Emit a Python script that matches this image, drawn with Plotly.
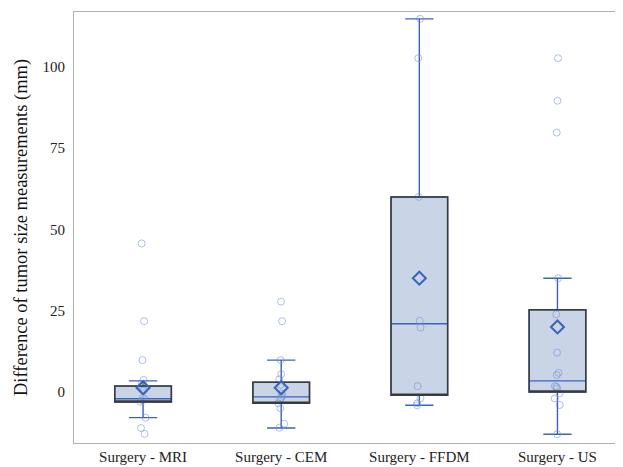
import plotly.graph_objects as go

categories = ["Surgery - MRI", "Surgery - CEM", "Surgery - FFDM", "Surgery - US"]

q1 = [-3.1, -3.5, -1.0, 0.0]
median = [-2.1, -1.5, 21.0, 3.4]
q3 = [1.8, 3.0, 60.0, 25.3]
lower_whisker = [-7.9, -11.1, -4.1, -13.0]
upper_whisker = [3.4, 9.8, 114.8, 35.0]
means = [1.3, 1.3, 35.0, 20.0]

points_mri = [45.7, 21.8, 9.8, 3.7, 2.5, 1.5, 0.5, -1.8, -2.2, -2.6, -3.0, -7.9, -11.1, -12.9]
points_cem = [27.8, 21.8, 9.8, 5.5, 3.9, 2.2, -0.5, -1.2, -1.8, -2.2, -3.5, -5.0, -9.8, -11.0]
points_ffdm = [114.8, 102.7, 60.0, 21.9, 19.8, 1.8, -1.9, -3.5, -4.1]
points_us = [102.7, 89.6, 79.8, 35.0, 23.9, 12.1, 5.9, 5.2, 1.8, 1.6, 1.1, -0.4, -2.0, -4.0, -13.0]

all_points = [points_mri, points_cem, points_ffdm, points_us]

BOX_FILL = "#c9d4e6"
BLUE = "#3a64b8"
POINT = "rgba(110,140,215,0.55)"
OUTLINE = "#3a3a3a"
SERIF = "Liberation Serif, Times New Roman, serif"

fig = go.Figure()

# box with blue whiskers and median
fig.add_trace(go.Box(
    x=categories, q1=q1, median=median, q3=q3,
    lowerfence=lower_whisker, upperfence=upper_whisker,
    fillcolor=BOX_FILL, line=dict(color=BLUE, width=1.4),
    whiskerwidth=0.5, width=0.41, boxpoints=False, showlegend=False,
    hoverinfo="skip",
))

# individual points
px, py = [], []
for c, pts in zip(categories, all_points):
    px += [c] * len(pts)
    py += pts
fig.add_trace(go.Box(
    x=px, y=py, boxpoints="all", jitter=0.12, pointpos=0, width=0.41,
    fillcolor="rgba(0,0,0,0)", line=dict(width=0, color="rgba(0,0,0,0)"),
    marker=dict(symbol="circle-open", size=7, color=POINT, line=dict(width=1)),
    showlegend=False, hoverinfo="y",
))

# dark box outline
fig.add_trace(go.Box(
    x=categories, q1=q1, median=q1, q3=q3,
    lowerfence=q1, upperfence=q3,
    fillcolor="rgba(0,0,0,0)", line=dict(color=OUTLINE, width=1.5),
    whiskerwidth=0, width=0.41, boxpoints=False, showlegend=False,
    hoverinfo="skip",
))

# means
fig.add_trace(go.Scatter(
    x=categories, y=means, mode="markers",
    marker=dict(symbol="diamond-open", size=10, color=BLUE, line=dict(width=2)),
    showlegend=False,
))

fig.update_layout(
    width=615, height=459,
    margin=dict(l=66, r=2, t=4, b=24),
    paper_bgcolor="white", plot_bgcolor="white",
    boxmode="overlay",
    font=dict(family=SERIF, color="#222222"),
)
fig.update_xaxes(
    type="category", range=[-0.5, 3.46],
    showline=True, linecolor="#b0b0b0", linewidth=1, mirror=True,
    showgrid=False, ticks="", tickfont=dict(size=15, family=SERIF, color="#222"),
)
fig.update_yaxes(
    range=[-15.7, 116.9], tickvals=[0, 25, 50, 75, 100],
    showline=True, linecolor="#b0b0b0", linewidth=1, mirror=True,
    showgrid=False, zeroline=False, ticks="", ticklabelstandoff=5,
    tickfont=dict(size=15, family=SERIF, color="#222"),
    title=dict(text="Difference of tumor size measurements (mm)",
               font=dict(size=18.5, family=SERIF, color="#111"), standoff=10),
)

fig.write_html("out.html")
